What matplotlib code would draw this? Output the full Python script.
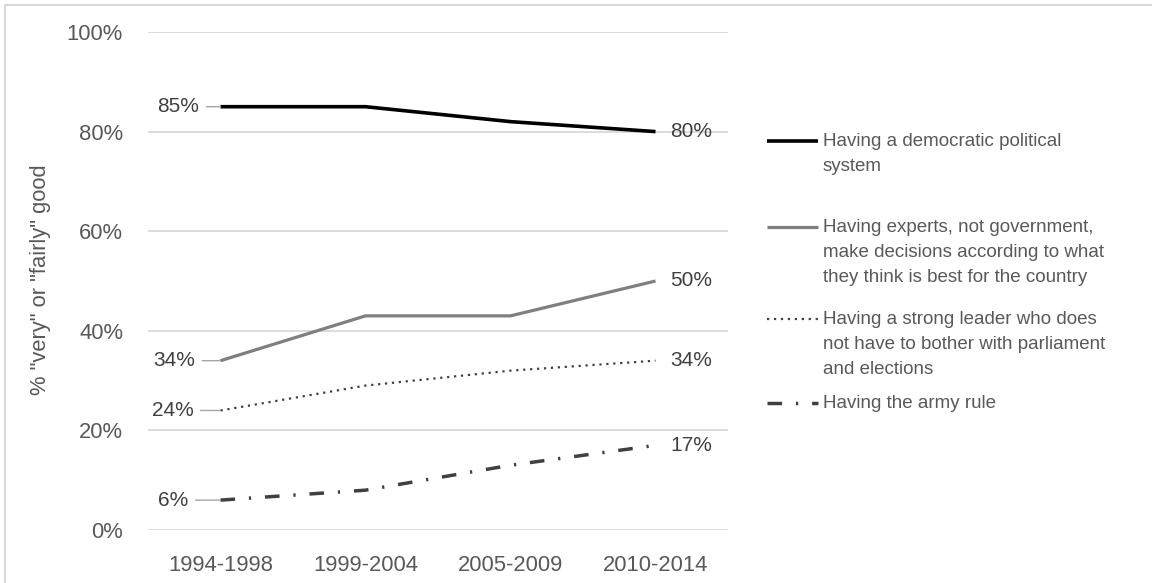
import matplotlib
matplotlib.use("Agg")
import matplotlib.pyplot as plt
from matplotlib.lines import Line2D
from matplotlib.ticker import FuncFormatter
from matplotlib.transforms import ScaledTranslation

plt.rcParams["font.family"] = ["Liberation Sans", "DejaVu Sans"]
plt.rcParams["lines.scale_dashes"] = False

# Survey periods and share rating each system "very" or "fairly" good (%)
periods = ["1994-1998", "1999-2004", "2005-2009", "2010-2014"]
democratic = [85, 85, 82, 80]
experts = [34, 43, 43, 50]
strong_leader = [24, 29, 32, 34]
army_rule = [6, 8, 13, 17]

legend_labels = [
    "Having a democratic political\nsystem",
    "Having experts, not government,\nmake decisions according to what\nthey think is best for the country",
    "Having a strong leader who does\nnot have to bother with parliament\nand elections",
    "Having the army rule",
]
yticks = [0, 20, 40, 60, 80, 100]

W, H, DPI = 1152, 583, 100
fig = plt.figure(figsize=(W / DPI, H / DPI), dpi=DPI)
ax = fig.add_axes([148 / W, 1 - 530 / H, (728 - 148) / W, (530 - 32) / H])

TEXT = "#595959"
LABEL = "#404040"
AXIS_FS = 15.8
DATA_FS = 15.0
LEG_FS = 13.5

styles = [
    dict(color="#000000", lw=2.6, ls="-", solid_capstyle="butt"),
    dict(color="#7f7f7f", lw=2.3, ls="-", solid_capstyle="butt"),
    dict(color="#404040", lw=1.6, ls=(0, (1.6, 3.4)), dash_capstyle="butt"),
    dict(color="#404040", lw=2.5, ls=(0, (10.5, 10.0, 1.6, 10.0)), dash_capstyle="butt"),
]
series = [democratic, experts, strong_leader, army_rule]
left_offsets = [-21, -25, -27, -32]
legend_y = [141, 227, 319, 403]

x = list(range(len(periods)))
for vals, st, off in zip(series, styles, left_offsets):
    ax.plot(x, vals, **st, zorder=3)
    # first-period label with a short leader line
    ax.annotate(f"{vals[0]}%", xy=(x[0], vals[0]), xytext=(off, 0),
                textcoords="offset pixels", ha="right", va="center",
                fontsize=DATA_FS, color=LABEL,
                arrowprops=dict(arrowstyle="-", color="#a6a6a6", lw=1.0,
                                relpos=(1, 0.5), patchA=None,
                                shrinkA=5, shrinkB=0))
    ax.annotate(f"{vals[-1]}%", xy=(x[-1], vals[-1]), xytext=(15, 0),
                textcoords="offset pixels", ha="left", va="center",
                fontsize=DATA_FS, color=LABEL)

ax.set_xlim(-0.5, len(periods) - 0.5)
ax.set_ylim(0, 100)
ax.set_xticks(x)
ax.set_xticklabels(periods)
ax.set_yticks(yticks)
ax.yaxis.set_major_formatter(FuncFormatter(lambda v, p: f"{v:.0f}%"))
ax.tick_params(axis="both", length=0, labelsize=AXIS_FS, labelcolor=TEXT)
ax.tick_params(axis="y", pad=18)
ax.tick_params(axis="x", pad=18)
ax.grid(axis="y", color="#d9d9d9", lw=1.3)
ax.set_axisbelow(True)
for s in ax.spines.values():
    s.set_visible(False)

fig.text(41 / W, 1 - 280 / H, '% "very" or "fairly" good', rotation=90,
         ha="center", va="center", fontsize=AXIS_FS, color=TEXT)

# legend drawn beside the plot
for lab, st, ly in zip(legend_labels, styles, legend_y):
    yf = 1 - ly / H
    fig.add_artist(Line2D([767 / W, 818 / W], [yf, yf], transform=fig.transFigure, **st))
    fig.text(823 / W, yf, lab, ha="left", va="top", fontsize=LEG_FS, color=TEXT,
             linespacing=1.6,
             transform=fig.transFigure + ScaledTranslation(0, 8 / DPI, fig.dpi_scale_trans))

# frame edges (top and left)
fig.add_artist(Line2D([5 / W, 1], [1 - 5 / H, 1 - 5 / H], transform=fig.transFigure, color="#d9d9d9", lw=1.5))
fig.add_artist(Line2D([5 / W, 5 / W], [0, 1 - 5 / H], transform=fig.transFigure, color="#d9d9d9", lw=1.5))

fig.savefig("out.png", dpi=DPI)
